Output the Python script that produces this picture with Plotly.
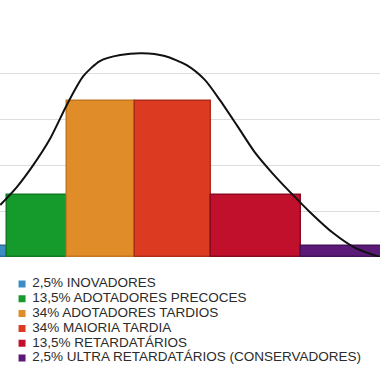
import plotly.graph_objects as go
import numpy as np

# ---- data ----
labels = [
    "2,5% INOVADORES",
    "13,5% ADOTADORES PRECOCES",
    "34% ADOTADORES TARDIOS",
    "34% MAIORIA TARDIA",
    "13,5% RETARDATÁRIOS",
    "2,5% ULTRA RETARDATÁRIOS (CONSERVADORES)",
]
shares = [2.5, 13.5, 34, 34, 13.5, 2.5]
grid_levels = [10, 20, 30, 40]

# bell curve (x in bar units, y in %)
curve_x = [0.91, 1.13, 1.34, 1.57, 1.79, 2.01, 2.23, 2.50, 2.79, 3.09, 3.38,
           3.62, 3.82, 4.05, 4.28, 4.51, 4.75, 5.01, 5.32, 5.61, 5.94]
curve_y = [11.3, 15.2, 19.8, 25.7, 33.0, 39.3, 42.6, 43.9, 44.3, 43.7, 41.7,
           38.5, 34.1, 28.5, 22.8, 18.3, 14.1, 9.8, 5.2, 2.0, 0.0]

# ---- style ----
colors = ["#3b8dc4", "#159a2c", "#e08c28", "#dd3a22", "#c0102c", "#5c1a78"]
edge_colors = ["#2a6d9c", "#0f7a22", "#c27720", "#b02c1a", "#8a0a20", "#441258"]
bar_widths = [1.0, 0.8, 0.9, 1.0, 1.2, 1.1]

edges = np.concatenate([[0.0], np.cumsum(bar_widths)])
centers = (edges[:-1] + edges[1:]) / 2

fig = go.Figure()

fig.add_trace(go.Bar(
    x=centers, y=shares, width=bar_widths,
    marker=dict(color=colors, line=dict(color=edge_colors, width=1.5)),
    showlegend=False, hoverinfo="skip",
))

fig.add_trace(go.Scatter(
    x=curve_x, y=curve_y, mode="lines",
    line=dict(color="#111111", width=2, shape="spline", smoothing=0.7),
    showlegend=False, hoverinfo="skip",
))

# custom legend in a second axis pair
idx = list(range(len(labels)))
fig.add_trace(go.Scatter(
    x=[0] * len(labels), y=idx, mode="markers",
    marker=dict(symbol="square", size=7, color=colors),
    xaxis="x2", yaxis="y2", showlegend=False, hoverinfo="skip",
))
fig.add_trace(go.Scatter(
    x=[0.027] * len(labels), y=idx, mode="text", text=labels,
    textposition="middle right",
    textfont=dict(family="Liberation Sans, Arial, sans-serif", size=13.5, color="#2b2b2b"),
    xaxis="x2", yaxis="y2", showlegend=False, hoverinfo="skip",
))

fig.update_layout(
    width=380, height=380,
    margin=dict(l=0, r=0, t=0, b=0),
    paper_bgcolor="white", plot_bgcolor="white",
    bargap=0,
    xaxis=dict(range=[0.907, 5.94], showgrid=False, zeroline=False,
               showticklabels=False, fixedrange=True),
    yaxis=dict(range=[0, 257 / 4.6], domain=[(380 - 257) / 380, 1],
               showgrid=True, gridcolor="#dddddd", gridwidth=1,
               tickmode="array", tickvals=grid_levels,
               zeroline=False, showticklabels=False, fixedrange=True),
    xaxis2=dict(range=[-0.058, 0.942], domain=[0, 1], anchor="y2",
                visible=False, fixedrange=True),
    yaxis2=dict(range=[5.5, -0.5], domain=[(380 - 365.4) / 380, (380 - 276.6) / 380],
                anchor="x2", visible=False, fixedrange=True),
)

fig.write_html("out.html", config={"displayModeBar": False},
               post_script="document.body.style.margin='0';")
